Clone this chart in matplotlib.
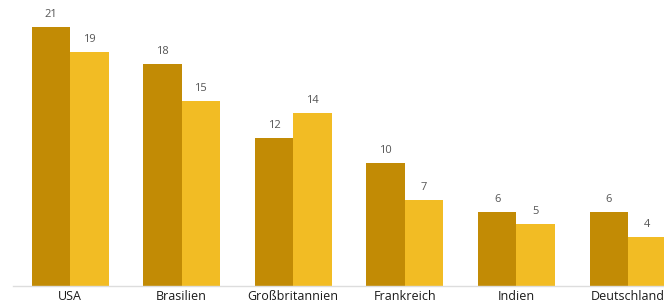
import matplotlib

matplotlib.use("Agg")

import matplotlib.pyplot as plt
import numpy as np

plt.rcParams["font.family"] = ["Open Sans", "DejaVu Sans"]

countries = ["USA", "Brasilien", "Großbritannien", "Frankreich", "Indien", "Deutschland"]
series_a = [21, 18, 12, 10, 6, 6]
series_b = [19, 15, 14, 7, 5, 4]

dark = "#C28B05"
light = "#F2BC24"
bar_w = 0.345

fig = plt.figure(figsize=(6.64, 3.05), dpi=100)
# axes runs past the right edge a little, like the cropped original
ax = fig.add_axes([13 / 664, 19 / 305, 1 - 13 / 664, 1 - 19 / 305])

x = np.arange(len(countries))
bars_a = ax.bar(x - bar_w / 2, series_a, bar_w, color=dark, linewidth=0)
bars_b = ax.bar(x + bar_w / 2, series_b, bar_w, color=light, linewidth=0)

for bars in (bars_a, bars_b):
    for bar in bars:
        ax.annotate(
            f"{bar.get_height():.0f}",
            (bar.get_x() + bar.get_width() / 2, bar.get_height()),
            xytext=(0, 5),
            textcoords="offset points",
            ha="center",
            va="bottom",
            fontsize=8,
            color="#555555",
        )

ax.set_xlim(-0.511, (664 - 70) / 111.6)
ax.set_ylim(0, 23.2)
ax.set_xticks(x)
ax.set_xticklabels(countries, fontsize=9, color="#1a1a1a")
ax.tick_params(axis="x", length=0, pad=3)
ax.set_yticks([])
for side in ("top", "right", "left"):
    ax.spines[side].set_visible(False)
ax.spines["bottom"].set_color("#dddddd")
ax.spines["bottom"].set_linewidth(1)

fig.savefig("out.png", dpi=100)
